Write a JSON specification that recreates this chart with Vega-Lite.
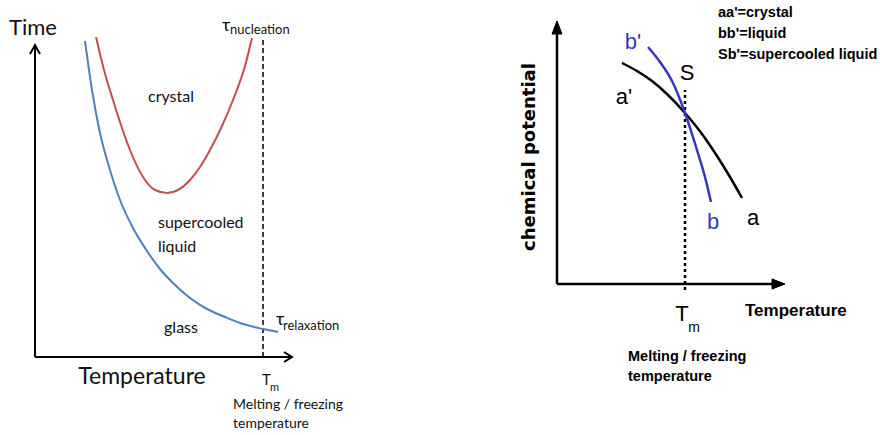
{
  "$schema": "https://vega.github.io/schema/vega-lite/v6.json",
  "background": "white",
  "padding": 0,
  "spacing": 0,
  "bounds": "flush",
  "config": {"view": {"stroke": null}},
  "hconcat": [
    {
      "width": 440,
      "height": 435,
      "encoding": {
        "x": {"field": "x", "type": "quantitative", "scale": {"domain": [-35, 405], "nice": false, "zero": false}, "axis": null},
        "y": {"field": "y", "type": "quantitative", "scale": {"domain": [-78, 357], "nice": false, "zero": false}, "axis": null}
      },
      "layer": [
        {
          "data": {"values": [
            {"seg": "yaxis", "o": 1, "x": 0, "y": 0}, {"seg": "yaxis", "o": 2, "x": 0, "y": 312},
            {"seg": "xaxis", "o": 1, "x": 0, "y": 0}, {"seg": "xaxis", "o": 2, "x": 257, "y": 0},
            {"seg": "yhead", "o": 1, "x": -5, "y": 303}, {"seg": "yhead", "o": 2, "x": 0, "y": 312}, {"seg": "yhead", "o": 3, "x": 5, "y": 303},
            {"seg": "xhead", "o": 1, "x": 249, "y": -5}, {"seg": "xhead", "o": 2, "x": 257, "y": 0}, {"seg": "xhead", "o": 3, "x": 249, "y": 5}
          ]},
          "mark": {"type": "line", "color": "black", "strokeWidth": 2},
          "encoding": {"detail": {"field": "seg"}, "order": {"field": "o"}}
        },
        {
          "data": {"values": [{"x": 228, "y": 0}, {"x": 228, "y": 320}]},
          "mark": {"type": "line", "color": "black", "strokeWidth": 1.5, "strokeDash": [5, 3]},
          "encoding": {}
        },
        {
          "data": {"values": [
            {"x": 61, "y": 320}, {"x": 69, "y": 287}, {"x": 78, "y": 257}, {"x": 87, "y": 229}, {"x": 95, "y": 207},
            {"x": 108, "y": 180}, {"x": 120, "y": 167}, {"x": 132, "y": 164}, {"x": 143, "y": 167}, {"x": 155, "y": 177},
            {"x": 165, "y": 190}, {"x": 175, "y": 207}, {"x": 187, "y": 231}, {"x": 198, "y": 257}, {"x": 210, "y": 291}, {"x": 217, "y": 319}
          ]},
          "mark": {"type": "line", "color": "#c0504d", "strokeWidth": 2, "interpolate": "monotone"},
          "encoding": {}
        },
        {
          "data": {"values": [
            {"x": 50, "y": 316}, {"x": 57, "y": 267}, {"x": 65, "y": 224}, {"x": 75, "y": 187}, {"x": 85, "y": 157},
            {"x": 98, "y": 129}, {"x": 112, "y": 106}, {"x": 125, "y": 88}, {"x": 138, "y": 74}, {"x": 155, "y": 59},
            {"x": 172, "y": 48}, {"x": 190, "y": 40}, {"x": 205, "y": 34}, {"x": 228, "y": 28}, {"x": 243, "y": 25}
          ]},
          "mark": {"type": "line", "color": "#4f81bd", "strokeWidth": 2, "interpolate": "monotone"},
          "encoding": {}
        },
        {
          "data": {"values": [
            {"t": "Time", "x": -2, "y": 329, "s": 22},
            {"t": "crystal", "x": 136, "y": 260, "s": 16},
            {"t": "glass", "x": 146, "y": 29, "s": 16},
            {"t": "Temperature", "x": 107, "y": -20, "s": 23}
          ]},
          "mark": {"type": "text", "font": "Lato", "color": "#111111", "baseline": "middle", "align": "center"},
          "encoding": {
            "text": {"field": "t"},
            "size": {"field": "s", "type": "quantitative", "scale": null}
          }
        },
        {
          "data": {"values": [
            {"t": "supercooled", "x": 123, "y": 134, "s": 16},
            {"t": "liquid", "x": 123, "y": 110, "s": 16},
            {"t": "τ", "x": 187, "y": 331, "s": 18},
            {"t": "nucleation", "x": 195, "y": 327, "s": 13},
            {"t": "τ", "x": 241, "y": 37, "s": 18},
            {"t": "relaxation", "x": 248, "y": 31, "s": 13},
            {"t": "T", "x": 227, "y": -23, "s": 15},
            {"t": "m", "x": 235, "y": -31, "s": 11},
            {"t": "Melting / freezing", "x": 198, "y": -48, "s": 14},
            {"t": "temperature", "x": 198, "y": -67, "s": 14}
          ]},
          "mark": {"type": "text", "font": "Lato", "color": "#111111", "baseline": "middle", "align": "left"},
          "encoding": {
            "text": {"field": "t"},
            "size": {"field": "s", "type": "quantitative", "scale": null}
          }
        }
      ]
    },
    {
      "width": 440,
      "height": 435,
      "encoding": {
        "x": {"field": "x", "type": "quantitative", "scale": {"domain": [-117, 323], "nice": false, "zero": false}, "axis": null},
        "y": {"field": "y", "type": "quantitative", "scale": {"domain": [-151, 284], "nice": false, "zero": false}, "axis": null}
      },
      "layer": [
        {
          "data": {"values": [
            {"seg": "yaxis", "o": 1, "x": 0, "y": 0}, {"seg": "yaxis", "o": 2, "x": 0, "y": 252},
            {"seg": "xaxis", "o": 1, "x": 0, "y": 0}, {"seg": "xaxis", "o": 2, "x": 218, "y": 0}
          ]},
          "mark": {"type": "line", "color": "black", "strokeWidth": 2.5},
          "encoding": {"detail": {"field": "seg"}, "order": {"field": "o"}}
        },
        {
          "data": {"values": [
            {"seg": "yhead", "o": 1, "x": -5, "y": 250}, {"seg": "yhead", "o": 2, "x": 0, "y": 263}, {"seg": "yhead", "o": 3, "x": 5, "y": 250}, {"seg": "yhead", "o": 4, "x": -5, "y": 250},
            {"seg": "xhead", "o": 1, "x": 215, "y": -5}, {"seg": "xhead", "o": 2, "x": 228, "y": 0}, {"seg": "xhead", "o": 3, "x": 215, "y": 5}, {"seg": "xhead", "o": 4, "x": 215, "y": -5}
          ]},
          "mark": {"type": "line", "color": "black", "fill": "black", "strokeWidth": 1, "strokeJoin": "miter"},
          "encoding": {"detail": {"field": "seg"}, "order": {"field": "o"}}
        },
        {
          "data": {"values": [{"x": 128, "y": -6}, {"x": 128, "y": 194}]},
          "mark": {"type": "line", "color": "black", "strokeWidth": 2.5, "strokeDash": [3, 3]},
          "encoding": {}
        },
        {
          "data": {"values": [
            {"x": 65, "y": 221}, {"x": 80, "y": 213}, {"x": 95, "y": 203}, {"x": 110, "y": 190}, {"x": 128, "y": 171},
            {"x": 145, "y": 150}, {"x": 160, "y": 128}, {"x": 173, "y": 107}, {"x": 185, "y": 86}
          ]},
          "mark": {"type": "line", "color": "black", "strokeWidth": 2.5, "interpolate": "monotone"},
          "encoding": {}
        },
        {
          "data": {"values": [
            {"x": 91, "y": 237}, {"x": 103, "y": 222}, {"x": 116, "y": 201}, {"x": 128, "y": 171},
            {"x": 140, "y": 134}, {"x": 148, "y": 107}, {"x": 154, "y": 82}
          ]},
          "mark": {"type": "line", "color": "#3535c8", "strokeWidth": 2.5, "interpolate": "monotone"},
          "encoding": {}
        },
        {
          "data": {"values": [
            {"t": "b'", "x": 76, "y": 242, "s": 22, "c": "#3535c8"},
            {"t": "S", "x": 130, "y": 211, "s": 22, "c": "black"},
            {"t": "a'", "x": 67, "y": 187, "s": 22, "c": "black"},
            {"t": "b", "x": 156, "y": 62, "s": 22, "c": "#3535c8"},
            {"t": "a", "x": 196, "y": 66, "s": 22, "c": "black"},
            {"t": "T", "x": 125, "y": -30, "s": 22, "c": "black"},
            {"t": "m", "x": 137, "y": -44, "s": 14, "c": "black"}
          ]},
          "mark": {"type": "text", "font": "Liberation Sans", "baseline": "middle", "align": "center"},
          "encoding": {
            "text": {"field": "t"},
            "size": {"field": "s", "type": "quantitative", "scale": null},
            "color": {"field": "c", "scale": null}
          }
        },
        {
          "data": {"values": [
            {"t": "aa'=crystal", "x": 161, "y": 271, "s": 14.5},
            {"t": "bb'=liquid", "x": 161, "y": 250, "s": 14.5},
            {"t": "Sb'=supercooled liquid", "x": 161, "y": 229, "s": 14.5},
            {"t": "Temperature", "x": 188, "y": -27, "s": 17},
            {"t": "Melting / freezing", "x": 71, "y": -73, "s": 14.5},
            {"t": "temperature", "x": 71, "y": -93, "s": 14.5}
          ]},
          "mark": {"type": "text", "font": "Liberation Sans", "fontWeight": "bold", "baseline": "middle", "align": "left", "color": "black"},
          "encoding": {
            "text": {"field": "t"},
            "size": {"field": "s", "type": "quantitative", "scale": null}
          }
        },
        {
          "data": {"values": [{"t": "chemical  potential", "x": -27, "y": 127}]},
          "mark": {"type": "text", "font": "DejaVu Sans", "fontWeight": "bold", "fontSize": 18, "angle": 270, "align": "center", "baseline": "middle", "color": "black"},
          "encoding": {"text": {"field": "t"}}
        }
      ]
    }
  ]
}
